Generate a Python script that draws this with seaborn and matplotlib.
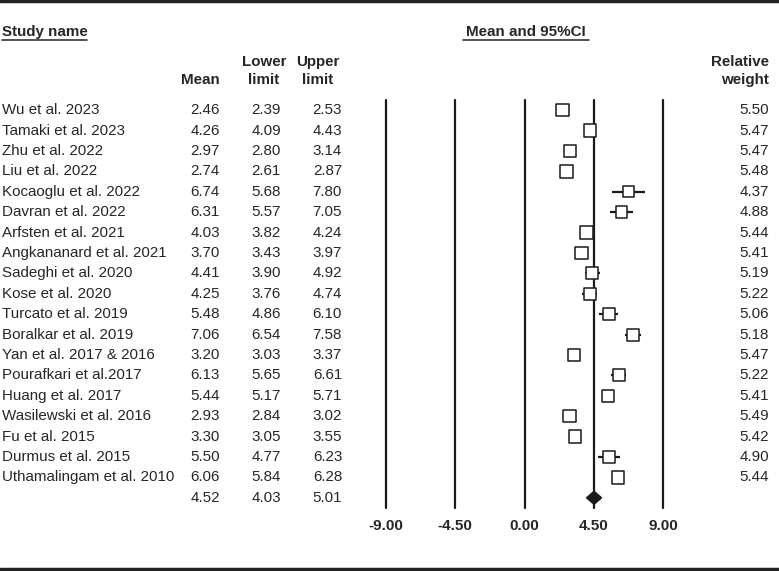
import matplotlib
matplotlib.use("Agg")
import matplotlib.pyplot as plt
from matplotlib.lines import Line2D
from matplotlib.patches import Polygon
from matplotlib.transforms import blended_transform_factory
import pandas as pd
import seaborn as sns

studies = ["Wu et al. 2023", "Tamaki et al. 2023", "Zhu et al. 2022", "Liu et al. 2022",
           "Kocaoglu et al. 2022", "Davran et al. 2022", "Arfsten et al. 2021",
           "Angkananard et al. 2021", "Sadeghi et al. 2020", "Kose et al. 2020",
           "Turcato et al. 2019", "Boralkar et al. 2019", "Yan et al. 2017 & 2016",
           "Pourafkari et al.2017", "Huang et al. 2017", "Wasilewski et al. 2016",
           "Fu et al. 2015", "Durmus et al. 2015", "Uthamalingam et al. 2010"]
means = [2.46, 4.26, 2.97, 2.74, 6.74, 6.31, 4.03, 3.70, 4.41, 4.25,
         5.48, 7.06, 3.20, 6.13, 5.44, 2.93, 3.30, 5.50, 6.06]
lower = [2.39, 4.09, 2.80, 2.61, 5.68, 5.57, 3.82, 3.43, 3.90, 3.76,
         4.86, 6.54, 3.03, 5.65, 5.17, 2.84, 3.05, 4.77, 5.84]
upper = [2.53, 4.43, 3.14, 2.87, 7.80, 7.05, 4.24, 3.97, 4.92, 4.74,
         6.10, 7.58, 3.37, 6.61, 5.71, 3.02, 3.55, 6.23, 6.28]
weights = [5.50, 5.47, 5.47, 5.48, 4.37, 4.88, 5.44, 5.41, 5.19, 5.22,
           5.06, 5.18, 5.47, 5.22, 5.41, 5.49, 5.42, 4.90, 5.44]
pooled = (4.52, 4.03, 5.01)
ticks = [-9.0, -4.5, 0.0, 4.5, 9.0]

df = pd.DataFrame({"study": studies, "mean": means, "lower": lower,
                   "upper": upper, "weight": weights})
df["row"] = range(len(df))
n = len(df)

sns.set_theme(style="white")
plt.rcParams['font.family'] = ['Liberation Sans', 'DejaVu Sans']

W, H = 779, 571
fig = plt.figure(figsize=(W / 100, H / 100), dpi=100)

# forest axes: x -9..9 spans pixels 386..663, rows from y=100 to 508
ax = fig.add_axes([386 / W, 1 - 508 / H, (663 - 386) / W, (508 - 100) / H])
ax.set_xlim(-9, 9)
ax.set_ylim(n + 0.5, -0.5)
for sp in ax.spines.values():
    sp.set_visible(False)

for t in ticks:
    ax.axvline(t, color="#1a1a1a", lw=1.6, zorder=1, clip_on=False)

ax.hlines(df["row"], df["lower"], df["upper"], color="#1a1a1a", lw=1.6, zorder=2)
sns.scatterplot(data=df, x="mean", y="row", size="weight", sizes=(64, 80),
                size_norm=(4.37, 5.50), marker="s", color="white",
                edgecolor="#1a1a1a", linewidth=1.1, legend=False, ax=ax, zorder=3,
                clip_on=False)

m, lo, hi = pooled
diamond = Polygon([(lo, n), (m, n - 0.32), (hi, n), (m, n + 0.32)],
                  closed=True, facecolor="#1a1a1a", edgecolor="#1a1a1a", zorder=4)
ax.add_patch(diamond)

ax.set_xticks(ticks)
ax.set_xticklabels([f"{t:.2f}" for t in ticks], fontweight="bold", fontsize=11)
ax.tick_params(axis="x", length=0, pad=8)
ax.set_yticks([])
ax.set_xlabel("")
ax.set_ylabel("")

# table text
tr = blended_transform_factory(fig.transFigure, ax.transData)
fs = 10.9
for i, r in df.iterrows():
    ax.text(2 / W, r["row"], r["study"], transform=tr, ha="left", va="center", fontsize=fs)
    ax.text(220 / W, r["row"], f"{r['mean']:.2f}", transform=tr, ha="right", va="center", fontsize=fs)
    ax.text(281 / W, r["row"], f"{r['lower']:.2f}", transform=tr, ha="right", va="center", fontsize=fs)
    ax.text(342 / W, r["row"], f"{r['upper']:.2f}", transform=tr, ha="right", va="center", fontsize=fs)
    ax.text(769 / W, r["row"], f"{r['weight']:.2f}", transform=tr, ha="right", va="center", fontsize=fs)
ax.text(220 / W, n, f"{m:.2f}", transform=tr, ha="right", va="center", fontsize=fs)
ax.text(281 / W, n, f"{lo:.2f}", transform=tr, ha="right", va="center", fontsize=fs)
ax.text(342 / W, n, f"{hi:.2f}", transform=tr, ha="right", va="center", fontsize=fs)

# headers
def ftext(x, y, s, **kw):
    return fig.text(x / W, 1 - y / H, s, fontsize=fs, fontweight="bold", va="center", **kw)

ftext(2, 32, "Study name", ha="left")
fig.add_artist(Line2D([2 / W, 87 / W], [1 - 40 / H] * 2, color="#333333", lw=1.2))
ftext(526, 32, "Mean and 95%CI", ha="center")
fig.add_artist(Line2D([463 / W, 589 / W], [1 - 40 / H] * 2, color="#333333", lw=1.2))
ftext(220, 80, "Mean", ha="right")
for x, top, bot, ha in [(264, "Lower", "limit", "center"), (318, "Upper", "limit", "center"),
                        (769, "Relative", "weight", "right")]:
    ftext(x, 62, top, ha=ha)
    ftext(x, 80, bot, ha=ha)

# frame lines top and bottom
fig.add_artist(Line2D([0, 1], [1 - 1 / H] * 2, color="#222222", lw=2.5))
fig.add_artist(Line2D([0, 1], [1 - 569 / H] * 2, color="#222222", lw=2.5))

fig.savefig("out.png", dpi=100)
